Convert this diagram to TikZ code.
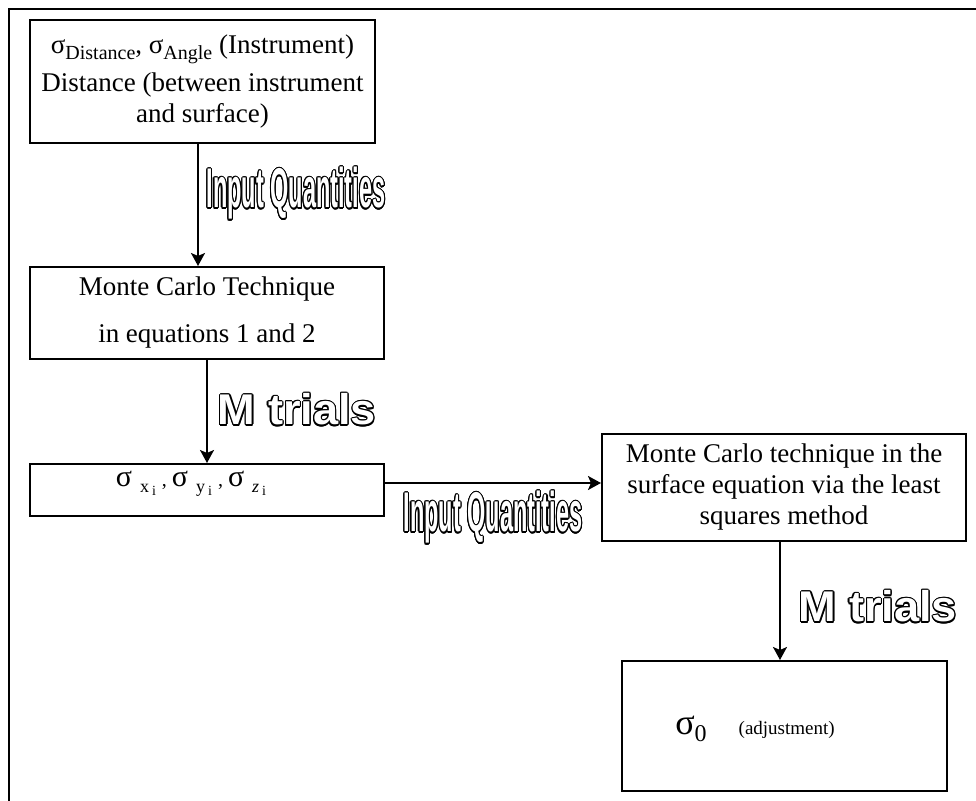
\documentclass[tikz,border=0pt]{standalone}
\usepackage{fontspec}
\setmainfont{Liberation Serif}
\newfontfamily\impactfont{Liberation Sans}[FakeStretch=0.42]
\newfontfamily\blackfont{Liberation Sans}[FakeStretch=1.05]
\usepackage[copies]{contour}
\contourlength{0.55pt}
\usetikzlibrary{arrows.meta}

\newcommand{\dsub}[1]{\raisebox{-0.45ex}{\fontsize{10}{10}\selectfont #1}}
\newcommand{\lowsub}[2]{\raisebox{-0.6ex}{\fontsize{9}{9}\selectfont #1\hspace{1.5pt}\raisebox{-0.35ex}{\fontsize{7}{7}\selectfont #2}}}
\newcommand{\bigsig}{{\fontsize{15}{16}\selectfont σ}}
\newcommand{\outlined}[1]{\textcolor{white}{\contour{black}{#1}}}

\begin{document}
\begin{tikzpicture}[x=0.5pt,y=-0.5pt,
  box/.style={draw, line width=1pt, inner sep=0pt, align=center, font=\fontsize{13.5}{15.5}\selectfont},
  arr/.style={line width=1pt, -{Stealth[length=6.5pt,width=7pt,inset=1.5pt]}},
  quant/.style={anchor=base, font=\impactfont\bfseries\fontsize{28}{28}\selectfont},
  trials/.style={anchor=base, font=\blackfont\bfseries\fontsize{21.5}{22}\selectfont}]
\useasboundingbox (0,0) rectangle (976,801);

% Frame (top and left only)
\draw[line width=1pt] (976,9) -- (9,9) -- (9,801);

% Boxes
\node[box, minimum width=172.5pt, minimum height=61.5pt] (instr) at (202.5,81.5)
  {σ\dsub{Distance}, σ\dsub{Angle} (Instrument)\\[3.5pt]
   Distance (between instrument\\and surface)};
\node[box, minimum width=177pt, minimum height=46pt] (mc1) at (207,313)
  {Monte Carlo Technique\\[8pt] in equations 1 and 2};
\node[box, minimum width=177pt, minimum height=26pt] (sig) at (207,490) {};
\node[anchor=base] (sigtxt) at (191,487)
  {\bigsig\hspace{4pt}\lowsub{x}{i}\hspace{3pt}, \bigsig\hspace{4pt}\lowsub{y}{i}\hspace{3pt}, \bigsig\hspace{4pt}\lowsub{\textit{z}}{i}};
\node[box, minimum width=182pt, minimum height=53.5pt] (mc2) at (784,487.5)
  {Monte Carlo technique in the\\surface equation via the least\\squares method};
\node[box, minimum width=162.5pt, minimum height=65pt] (adj) at (784.5,726) {};
\node[anchor=base] (adjtxt) at (755,735)
  {{\fontsize{18}{18}\selectfont σ}\raisebox{-0.7ex}{\fontsize{12}{12}\selectfont 0}\hspace{16pt}{\fontsize{9.5}{10}\selectfont (adjustment)}};

% Arrow positions
\coordinate (ax1) at (198,0);
\coordinate (ax2) at (207,0);
\coordinate (ay3) at (0,483);
\coordinate (ax4) at (780,0);

% Arrows
\draw[arr] (instr.south -| ax1) -- (mc1.north -| ax1);
\draw[arr] (mc1.south -| ax2) -- (sig.north -| ax2);
\draw[arr] (sig.east |- ay3) -- (mc2.west |- ay3);
\draw[arr] (mc2.south -| ax4) -- (adj.north -| ax4);

% Outlined labels
\foreach \nm/\px/\py in {iq1/296/208, iq2/493/532} {
    \node[quant] (\nm) at (\px,\py) {\outlined{Input Quantities}};
}
\foreach \nm/\px/\py in {mt1/297/425, mt2/878/622} {
    \node[trials] (\nm) at (\px,\py) {\outlined{M trials}};
}
\end{tikzpicture}
\end{document}
